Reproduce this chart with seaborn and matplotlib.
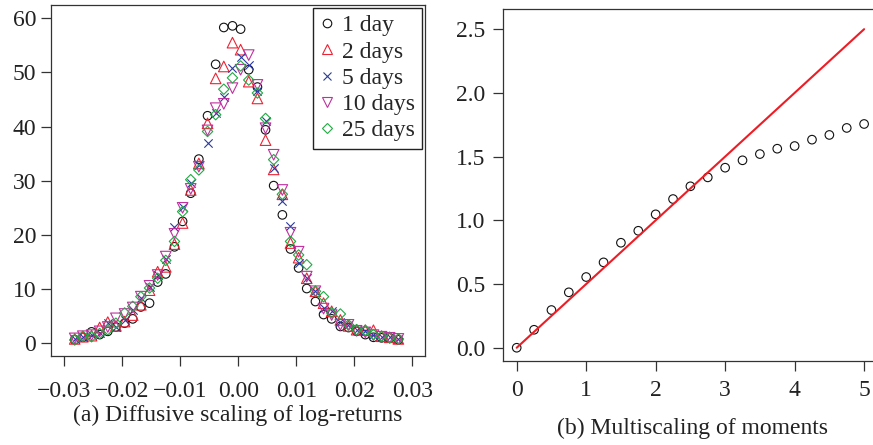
import numpy as np
import pandas as pd
import matplotlib
matplotlib.use("Agg")
import matplotlib.pyplot as plt
from matplotlib.lines import Line2D
import seaborn as sns

# ---------------- data: panel (a) ----------------
log_return = [-0.0282, -0.0268, -0.0253, -0.0239, -0.0225, -0.0211, -0.0196, -0.0182,
              -0.0168, -0.0153, -0.0139, -0.0125, -0.0110, -0.0096, -0.0082, -0.0068,
              -0.0053, -0.0039, -0.0025, -0.0010, 0.0004, 0.0018, 0.0033, 0.0047,
              0.0061, 0.0076, 0.0090, 0.0104, 0.0118, 0.0133, 0.0147, 0.0161,
              0.0176, 0.0190, 0.0204, 0.0219, 0.0233, 0.0247, 0.0261, 0.0276]

density_1d = [0.65, 1.1, 2.1, 1.6, 2.2, 3.0, 3.7, 4.5, 6.7, 7.4, 11.3, 12.8, 17.8, 22.5,
              27.7, 34.0, 42.0, 51.5, 58.3, 58.6, 58.0, 50.5, 47.3, 39.4, 29.1, 23.7,
              17.4, 13.9, 10.1, 7.7, 5.3, 4.5, 3.1, 2.9, 2.2, 1.6, 1.1, 1.0, 1.0, 0.65]
density_2d = [0.8, 1.2, 1.4, 2.9, 3.9, 3.2, 4.0, 5.2, 7.1, 9.8, 13.2, 14.1, 18.3, 22.2,
              28.3, 33.2, 40.6, 48.9, 51.1, 55.5, 54.2, 48.3, 45.2, 37.5, 32.1, 27.5,
              18.5, 15.8, 12.0, 9.6, 7.4, 5.9, 4.3, 3.2, 2.5, 2.4, 2.4, 1.3, 1.1, 0.8]
density_5d = [0.7, 1.1, 1.6, 1.8, 3.7, 3.0, 4.2, 6.2, 8.4, 10.4, 12.6, 15.6, 21.4, 25.2,
              29.6, 33.0, 36.9, 42.5, 45.5, 50.8, 52.9, 51.4, 46.5, 41.0, 32.3, 26.2,
              21.7, 14.8, 12.0, 9.6, 6.5, 5.9, 4.0, 3.4, 2.5, 2.2, 1.6, 1.2, 1.1, 0.8]
density_10d = [0.9, 1.3, 1.5, 2.2, 3.0, 4.6, 5.4, 6.6, 8.6, 10.6, 12.6, 16.0, 20.2, 25.0,
               28.5, 32.6, 39.3, 43.4, 44.2, 47.1, 50.5, 53.2, 47.7, 39.7, 34.8, 28.3,
               20.4, 16.9, 12.3, 9.6, 6.4, 5.2, 3.4, 3.4, 2.3, 2.0, 1.5, 1.2, 1.0, 0.8]
density_25d = [0.6, 1.3, 1.2, 1.8, 2.5, 3.7, 5.6, 6.8, 8.6, 10.2, 12.0, 15.3, 18.8, 24.3,
               30.2, 32.0, 39.1, 42.2, 46.9, 49.0, 51.2, 48.6, 46.2, 41.5, 33.9, 27.5,
               18.8, 16.3, 14.5, 9.6, 8.6, 5.6, 5.4, 3.4, 2.5, 2.4, 1.6, 1.3, 1.0, 0.8]

series_labels = ["1 day", "2 days", "5 days", "10 days", "25 days"]

# ---------------- data: panel (b) ----------------
moment_q = [0.0, 0.25, 0.5, 0.75, 1.0, 1.25, 1.5, 1.75, 2.0, 2.25, 2.5, 2.75, 3.0,
            3.25, 3.5, 3.75, 4.0, 4.25, 4.5, 4.75, 5.0]
zeta_q = [0.0, 0.141, 0.296, 0.435, 0.555, 0.670, 0.824, 0.918, 1.047, 1.167, 1.267,
          1.337, 1.413, 1.471, 1.520, 1.562, 1.583, 1.633, 1.670, 1.725, 1.756]
linear_q = [0.0, 5.0]
linear_zeta = [0.0, 2.5]

x_ticks_a = [-0.03, -0.02, -0.01, 0.00, 0.01, 0.02, 0.03]
y_ticks_a = [0, 10, 20, 30, 40, 50, 60]
x_ticks_b = [0, 1, 2, 3, 4, 5]
y_ticks_b = [0.0, 0.5, 1.0, 1.5, 2.0, 2.5]

# ---------------- style ----------------
sns.set_style("white")
plt.rcParams["font.family"] = ["Liberation Serif", "DejaVu Serif"]
plt.rcParams["axes.unicode_minus"] = True
FS = 17

W, H = 873, 445
fig = plt.figure(figsize=(W / 100, H / 100), dpi=100)

def frac_box(x0, y0, x1, y1):
    return [x0 / W, 1 - y1 / H, (x1 - x0) / W, (y1 - y0) / H]

ax_a = fig.add_axes(frac_box(50.7, 5, 425, 355.7))
ax_b = fig.add_axes(frac_box(502.8, 9.3, 878, 361))

styles = [
    dict(marker="o", s=38, facecolor="none", edgecolor="#111111", linewidth=0.8),
    dict(marker="^", s=58, facecolor="none", edgecolor="#EE2233", linewidth=0.8),
    dict(marker="x", s=36, color="#2B3A9E", linewidth=0.8),
    dict(marker="v", s=58, facecolor="none", edgecolor="#C0309F", linewidth=0.8),
    dict(marker="D", s=28, facecolor="none", edgecolor="#22AA44", linewidth=0.8),
]
densities = [density_1d, density_2d, density_5d, density_10d, density_25d]

for dens, st in zip(densities, styles):
    df = pd.DataFrame({"r": log_return, "p": dens})
    sns.scatterplot(data=df, x="r", y="p", ax=ax_a, legend=False, **st)

ax_a.set_xlim(-0.03234, 0.03219)
ax_a.set_ylim(-2.3, 62.45)
ax_a.set_xticks(x_ticks_a)
ax_a.set_xticklabels([f"{v:.2f}".replace("-", "\u2212") for v in x_ticks_a])
ax_a.set_yticks(y_ticks_a)
ax_a.set_yticklabels([str(v) for v in y_ticks_a])

# legend
handles = []
for lab, st in zip(series_labels, styles):
    col = st.get("edgecolor", st.get("color"))
    ms = np.sqrt(st["s"])
    if st["marker"] == "x":
        h = Line2D([], [], linestyle="none", marker="x", color=col, markersize=ms,
                   markeredgewidth=0.8)
    else:
        h = Line2D([], [], linestyle="none", marker=st["marker"], markerfacecolor="none",
                   markeredgecolor=col, markersize=ms, markeredgewidth=0.8)
    handles.append(h)
leg = ax_a.legend(handles, series_labels, loc="upper right", fontsize=FS,
                  frameon=True, fancybox=False, framealpha=1, edgecolor="#222222",
                  borderpad=0.3, handlelength=0.6, handletextpad=0.35,
                  labelspacing=0.2, borderaxespad=0.12)
leg.get_frame().set_linewidth(1.0)

# panel (b)
df_b = pd.DataFrame({"q": moment_q, "z": zeta_q})
df_l = pd.DataFrame({"q": linear_q, "z": linear_zeta})
sns.lineplot(data=df_l, x="q", y="z", ax=ax_b, color="#EE1C24", linewidth=1.5)
sns.scatterplot(data=df_b, x="q", y="z", ax=ax_b, marker="o", s=38,
                facecolor="none", edgecolor="#111111", linewidth=0.8, legend=False)
ax_b.set_xlim(-0.2, 5.2)
ax_b.set_ylim(-0.104, 2.656)
ax_b.set_xticks(x_ticks_b)
ax_b.set_xticklabels([str(v) for v in x_ticks_b])
ax_b.set_yticks(y_ticks_b)
ax_b.set_yticklabels([f"{v:.1f}" for v in y_ticks_b])

for ax, xpad, ypad in [(ax_a, 11.0, 3.0), (ax_b, 6.5, 5.0)]:
    ax.set_xlabel("")
    ax.set_ylabel("")
    for sp in ax.spines.values():
        sp.set_visible(True)
        sp.set_color("#333333")
        sp.set_linewidth(0.9)
    ax.tick_params(axis="both", direction="out", length=7.5, width=0.9,
                   color="#333333", labelsize=FS, labelcolor="#222222")
    ax.tick_params(axis="x", pad=xpad, bottom=True)
    ax.tick_params(axis="y", pad=ypad, left=True)

fig.text(237.8 / W, 1 - 415.5 / H, "(a) Diffusive scaling of log-returns",
         ha="center", va="center", fontsize=FS, color="#222222")
fig.text(692.5 / W, 1 - 428 / H, "(b) Multiscaling of moments",
         ha="center", va="center", fontsize=FS, color="#222222")

fig.savefig("out.png", dpi=100)
